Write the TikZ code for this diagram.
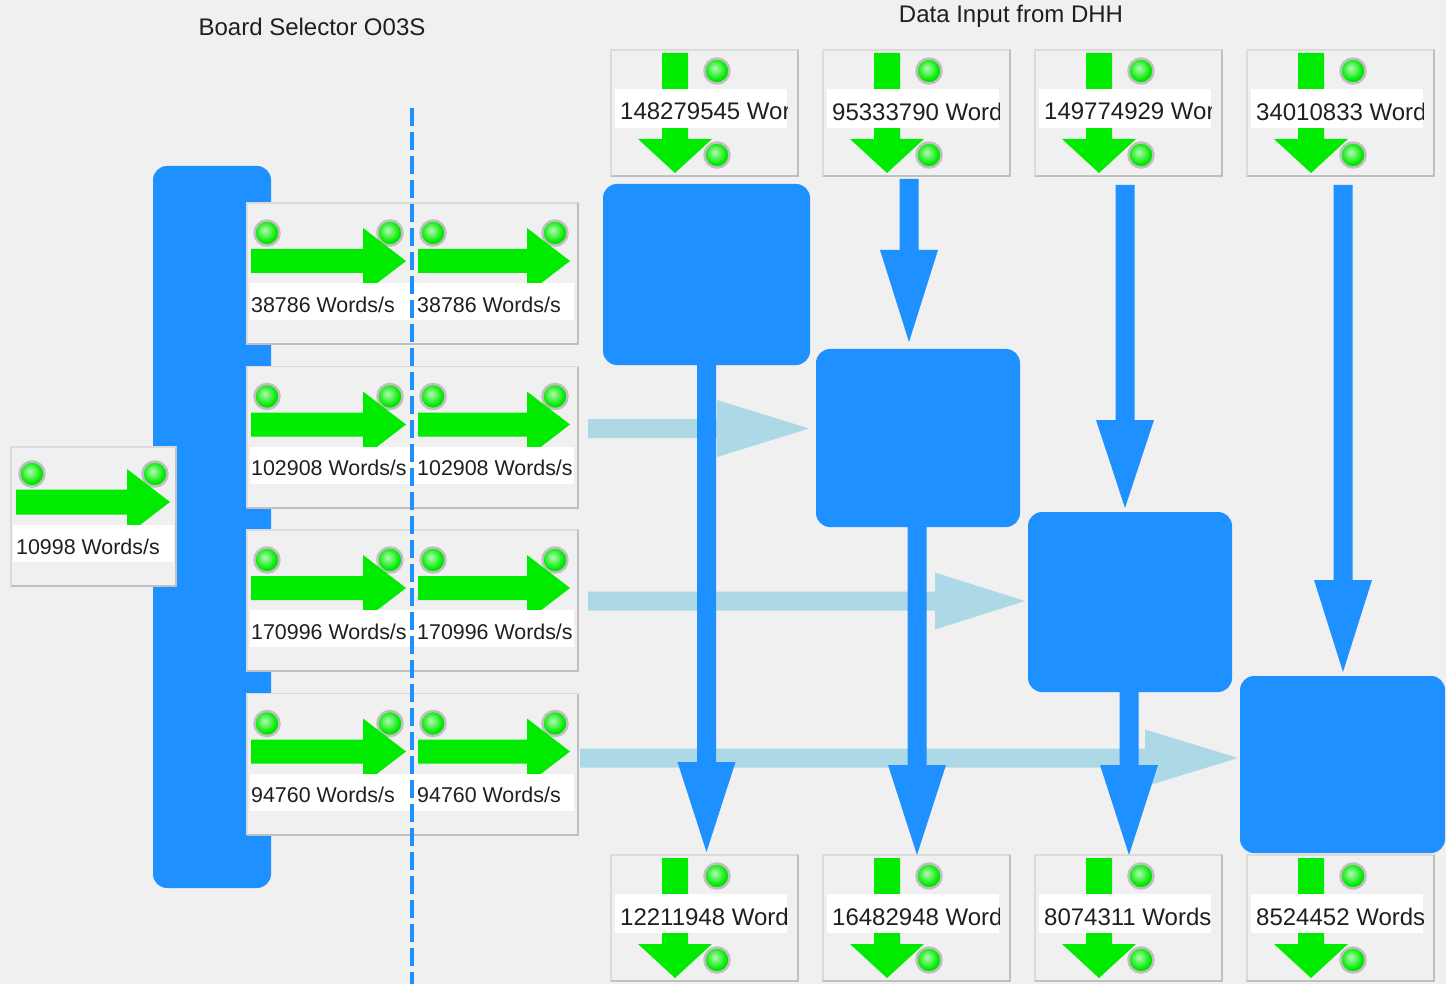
\documentclass[tikz,border=0pt]{standalone}
\usepackage{fontspec}
\setmainfont{Liberation Sans}
\usetikzlibrary{calc}
\definecolor{bg}{HTML}{F0F0F0}
\definecolor{dblue}{HTML}{1E90FF}
\definecolor{lblue}{HTML}{ADD8E6}
\definecolor{lgreen}{HTML}{00EB00}
\pgfdeclareradialshading{ledball}{\pgfpoint{-5bp}{6bp}}{color(0bp)=(lgreen!30!white); color(11bp)=(lgreen!65!white); color(21bp)=(lgreen); color(25bp)=(lgreen!92!black); color(50bp)=(lgreen!92!black)}
\tikzset{
  panel/.style={draw=black!14, fill=bg, line width=1.5pt, anchor=north west, inner sep=0pt, outer sep=0pt},
  shadowline/.style={draw=black!25, line width=2pt},
  led/.style={circle, minimum size=25pt, inner sep=0pt, draw=black!25, line width=2.5pt, shading=ledball},
  bbox/.style={fill=dblue, rounded corners=14pt, anchor=north west, inner sep=0pt, outer sep=0pt},
  stext/.style={anchor=west, inner sep=0pt, text=black!88, font=\fontsize{21.4}{24}\selectfont},
  dtext/.style={anchor=west, inner sep=0pt, text=black!88, font=\fontsize{24}{27}\selectfont},
  title/.style={inner sep=0pt, text=black!88, font=\fontsize{24}{28}\selectfont},
  dline/.style={draw=dblue, line width=3.5pt, dash pattern=on 18pt off 6pt}
}
\newcommand\fatright[6]{\fill[#6] ($(#1)+(0,-#3)$) -- ($(#2)+(-#5,-#3)$) -- ($(#2)+(-#5,-#4)$) -- (#2) -- ($(#2)+(-#5,#4)$) -- ($(#2)+(-#5,#3)$) -- ($(#1)+(0,#3)$) -- cycle;}
\newcommand\fatdown[6]{\fill[#6] ($(#1)+(-#3,0)$) -- ($(#2)+(-#3,-#5)$) -- ($(#2)+(-#4,-#5)$) -- (#2) -- ($(#2)+(#4,-#5)$) -- ($(#2)+(#3,-#5)$) -- ($(#1)+(#3,0)$) -- cycle;}
\newcommand\ledat[3]{\node[led] (#1) at (#2,#3) {};}
\newcommand\senderrow[3]{%
  \node[panel, minimum width=331pt, minimum height=141pt] (#1) at (247,#2) {};
  \draw[shadowline] (#1.north east) -- (#1.south east) -- (#1.south west);
  \ledat{#1la}{267}{#2+30}\ledat{#1lb}{390}{#2+30}\ledat{#1lc}{433}{#2+30}\ledat{#1ld}{555}{#2+30}
  \coordinate (#1s1) at (251,#2+58); \coordinate (#1e1) at (406,#2+58);
  \coordinate (#1s2) at (418,#2+58); \coordinate (#1e2) at (570,#2+58);
  \fatright{#1s1}{#1e1}{12}{33}{43}{lgreen}
  \fatright{#1s2}{#1e2}{12}{33}{43}{lgreen}
  \fill[white] (250,#2+80) rectangle (574,#2+117);
  \node[stext] (#1ta) at (251,#2+101.5) {#3};
  \node[stext] (#1tb) at (417,#2+101.5) {#3};
}
\newcommand\dhhpanel[4]{%
  \node[panel, minimum width=187pt, minimum height=126pt] (#1) at (#2,#3) {};
  \draw[shadowline] (#1.north east) -- (#1.south east) -- (#1.south west);
  \ledat{#1la}{#2+106}{#3+21}\ledat{#1lb}{#2+106}{#3+105}
  \coordinate (#1a) at (#2+64,#3+3); \coordinate (#1b) at (#2+64,#3+123);
  \fatdown{#1a}{#1b}{13}{37}{34}{lgreen}
  \fill[white] (#2+4,#3+39) rectangle (#2+176,#3+78);
  \begin{scope}
    \clip (#2+4,#3+39) rectangle (#2+176,#3+78);
    \node[dtext] (#1t) at (#2+9,#3+61.5) {#4};
  \end{scope}
}
\begin{document}
\begin{tikzpicture}[x=1pt,y=-1pt]
\fill[bg] (0,0) rectangle (1446,984);
\useasboundingbox (0,0) rectangle (1446,984);
% titles
\node[title] (t1) at (312,27) {Board Selector O03S};
\node[title] (t2) at (1011,16) {Data Input from DHH};
% board selector
\node[bbox, minimum width=118pt, minimum height=722pt] (bs) at (153,166) {};
% sender rows
\senderrow{ra}{203}{38786 Words/s}
\senderrow{rb}{366.5}{102908 Words/s}
\senderrow{rc}{530}{170996 Words/s}
\senderrow{rd}{693.5}{94760 Words/s}
% input panel
\node[panel, minimum width=165pt, minimum height=139pt] (inp) at (11,447) {};
\draw[shadowline] (inp.north east) -- (inp.south east) -- (inp.south west);
\ledat{inpla}{32}{474}\ledat{inplb}{155}{474}
\coordinate (inps) at (16,502); \coordinate (inpe) at (170,502);
\fatright{inps}{inpe}{12.5}{33}{43}{lgreen}
\fill[white] (13,525) rectangle (174,562);
\node[stext] (inpt) at (16,547) {10998 Words/s};
% DHH panels
\dhhpanel{ta}{611}{50}{148279545 Wor}
\dhhpanel{tb}{823}{50}{95333790 Word}
\dhhpanel{tc}{1035}{50}{149774929 Wor}
\dhhpanel{td}{1247}{50}{34010833 Word}
\dhhpanel{ba}{611}{855}{12211948 Word}
\dhhpanel{bb}{823}{855}{16482948 Word}
\dhhpanel{bc}{1035}{855}{8074311 Words}
\dhhpanel{bd}{1247}{855}{8524452 Words}
% light blue arrows
\coordinate (l2s) at (588,428.5); \coordinate (l2e) at (809,428.5);
\coordinate (l3s) at (588,601); \coordinate (l3e) at (1025,601);
\coordinate (l4s) at (580,758); \coordinate (l4e) at (1238,758);
\fatright{l2s}{l2e}{9.5}{28.5}{92}{lblue}
\fatright{l3s}{l3e}{9.5}{28.5}{90}{lblue}
\fatright{l4s}{l4e}{9.5}{28.5}{93}{lblue}
% blue boxes
\node[bbox, minimum width=207pt, minimum height=181pt] (A) at (603,184) {};
\node[bbox, minimum width=204pt, minimum height=178pt] (B) at (816,349) {};
\node[bbox, minimum width=204pt, minimum height=180pt] (C) at (1028,512) {};
\node[bbox, minimum width=205pt, minimum height=177pt] (D) at (1240,676) {};
% blue vertical arrows
\coordinate (v1s) at (706.5,365); \coordinate (v1e) at (706.5,852);
\coordinate (v2s) at (909,179); \coordinate (v2e) at (909,342);
\coordinate (v3s) at (917,527); \coordinate (v3e) at (917,855);
\coordinate (v4s) at (1125,185); \coordinate (v4e) at (1125,508);
\coordinate (v5s) at (1129,692); \coordinate (v5e) at (1129,855);
\coordinate (v6s) at (1343,185); \coordinate (v6e) at (1343,672);
\fatdown{v1s}{v1e}{9.5}{29}{90}{dblue}
\fatdown{v2s}{v2e}{9.5}{29}{92}{dblue}
\fatdown{v3s}{v3e}{9.5}{29}{90}{dblue}
\fatdown{v4s}{v4e}{9.5}{29}{88}{dblue}
\fatdown{v5s}{v5e}{9.5}{29}{90}{dblue}
\fatdown{v6s}{v6e}{9.5}{29}{92}{dblue}
% dashed separator
\coordinate (dtop) at (412,108); \coordinate (dbot) at (412,984);
\draw[dline] (dtop) -- (dbot);
\end{tikzpicture}
\end{document}
